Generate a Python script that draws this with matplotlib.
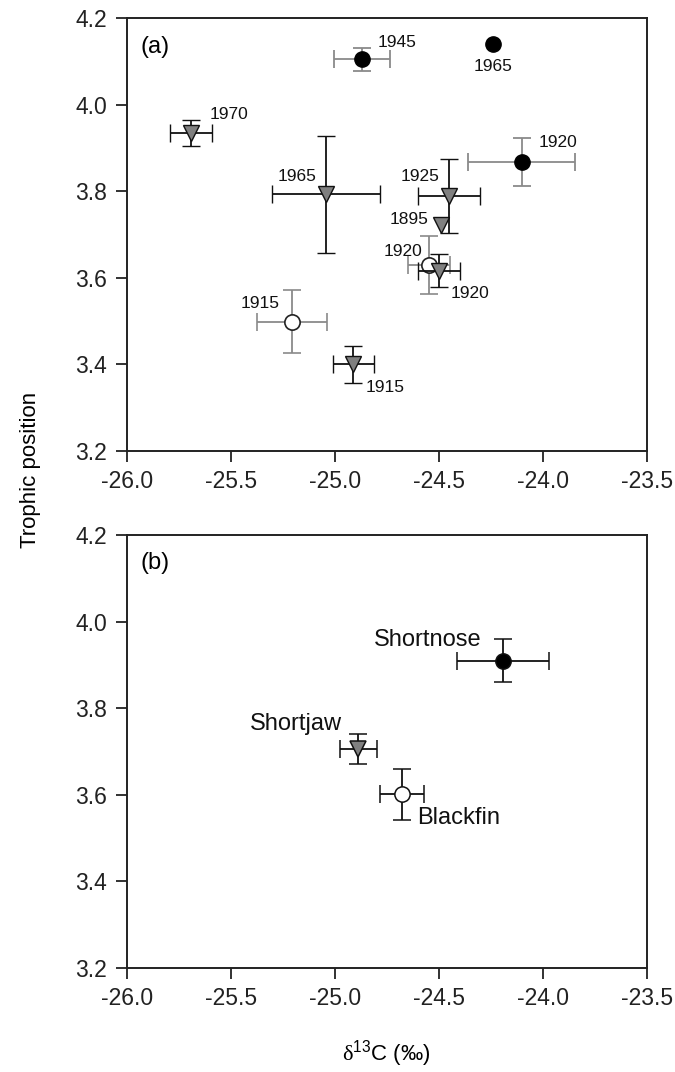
import numpy as np
import matplotlib
matplotlib.use('Agg')
import matplotlib.pyplot as plt

plt.rcParams['font.family']=['Liberation Sans','DejaVu Sans']
plt.rcParams['mathtext.fontset']='custom'
plt.rcParams['mathtext.rm']='Liberation Serif'
plt.rcParams['mathtext.sf']='Liberation Sans'
plt.rcParams['axes.unicode_minus']=False

# %% data, panel (a): by period
sn_yr=[1945,1965,1920]
sn_x=[-24.87,-24.24,-24.10]
sn_y=[4.105,4.140,3.868]
sn_xe=[0.134,np.nan,0.257]
sn_ye=[0.027,np.nan,0.055]

sj_yr=[1970,1965,1925,1895,1920,1915]
sj_x=[-25.69,-25.04,-24.45,-24.49,-24.50,-24.91]
sj_y=[3.934,3.793,3.789,3.722,3.616,3.400]
sj_xe=[0.10,0.26,0.15,np.nan,0.10,0.097]
sj_ye=[0.030,0.135,0.085,np.nan,0.038,0.043]

bf_yr=[1915,1920]
bf_x=[-25.205,-24.547]
bf_y=[3.498,3.629]
bf_xe=[0.167,0.10]
bf_ye=[0.073,0.067]

# panel (b): species means
sp=['Shortnose','Shortjaw','Blackfin']
sp_x=[-24.19,-24.886,-24.676]
sp_y=[3.910,3.706,3.601]
sp_xe=[0.221,0.090,0.104]
sp_ye=[0.050,0.034,0.058]

xticks=[-26.0,-25.5,-25.0,-24.5,-24.0,-23.5]
yticks=[3.2,3.4,3.6,3.8,4.0,4.2]

# label offsets (px; right/up positive) and alignment
sn_off=[(16,17,'left'),(0,-22,'center'),(17,19,'left')]
sj_off=[(18,19,'left'),(-10,18,'right'),(-10,20,'right'),(-12,5,'right'),(12,-23,'left'),(12,-23,'left')]
bf_off=[(-12,18,'right'),(-7,14,'right')]
sp_off=[(-22,21,'right'),(-17,25,'right'),(15,-24,'left')]

gry='#8a8a8a'
eb=dict(capsize=6.5,elinewidth=1.3,capthick=1.3,linestyle='none')

fig=plt.figure(figsize=(6.75,10.72),dpi=100)
axa=fig.add_axes([0.1877,0.5796,0.7704,0.4033])
axb=fig.add_axes([0.1877,0.0970,0.7704,0.4039])

def style(ax,lab):
    ax.set_xlim(-26,-23.5);ax.set_ylim(3.2,4.2)
    ax.set_xticks(xticks);ax.set_yticks(yticks)
    ax.set_xticklabels(['%.1f'%v for v in xticks])
    ax.set_yticklabels(['%.1f'%v for v in yticks])
    ax.tick_params(direction='out',length=8,width=1.3,labelsize=16.5,pad=6,colors='#222222')
    for s in ax.spines.values():
        s.set_linewidth(1.4);s.set_color('#222222')
    ax.text(0.027,0.96,lab,transform=ax.transAxes,fontsize=17,va='top',ha='left')

def lbl(ax,txt,x,y,off,fs):
    dx,dy,ha=off
    ax.annotate(txt,(x,y),xytext=(dx*0.72,dy*0.72),textcoords='offset points',
                ha=ha,va='center',fontsize=fs,color='#111111')

# %% panel a
ax=axa
ax.errorbar(bf_x,bf_y,xerr=bf_xe,yerr=bf_ye,marker='o',ms=11,mfc='white',mec='#222222',
            mew=1.2,ecolor=gry,zorder=2,**eb)
ax.errorbar(sj_x,sj_y,xerr=sj_xe,yerr=sj_ye,marker='v',ms=11,mfc='#808080',mec='#111111',
            mew=1.0,ecolor='#111111',zorder=3,**eb)
ax.errorbar(sn_x,sn_y,xerr=sn_xe,yerr=sn_ye,marker='o',ms=11,mfc='black',mec='black',
            ecolor=gry,zorder=4,**eb)
for i in range(len(sn_yr)): lbl(ax,str(sn_yr[i]),sn_x[i],sn_y[i],sn_off[i],12.5)
for i in range(len(sj_yr)): lbl(ax,str(sj_yr[i]),sj_x[i],sj_y[i],sj_off[i],12.5)
for i in range(len(bf_yr)): lbl(ax,str(bf_yr[i]),bf_x[i],bf_y[i],bf_off[i],12.5)
style(ax,'(a)')

# %% panel b
ax=axb
mk=['o','v','o'];fc=['black','#808080','white']
for i in range(len(sp)):
    ax.errorbar([sp_x[i]],[sp_y[i]],xerr=[sp_xe[i]],yerr=[sp_ye[i]],marker=mk[i],ms=11,
                mfc=fc[i],mec='#111111',mew=1.1,ecolor='#111111',**eb)
    lbl(ax,sp[i],sp_x[i],sp_y[i],sp_off[i],17)
style(ax,'(b)')
ax.set_xlabel(r'$\mathrm{\delta}^{\mathsf{13}}$C (‰)',fontsize=16,labelpad=20)

fig.text(0.045,0.562,'Trophic position',rotation=90,fontsize=16,ha='center',va='center')

plt.savefig('out.png',dpi=100)
